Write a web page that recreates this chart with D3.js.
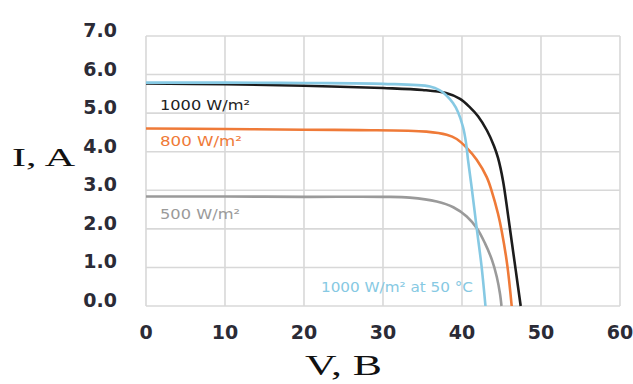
<!DOCTYPE html>
<html>
<head>
<meta charset="utf-8">
<script src="https://cdn.jsdelivr.net/npm/d3@7"></script>
<style>
  html, body { margin: 0; padding: 0; background: #fff; }
  svg { display: block; }
</style>
</head>
<body>
<svg id="chart" width="633" height="384"></svg>
<script>
// ---- data ----
const xTicks = [0, 10, 20, 30, 40, 50, 60];
const yTicks = [0, 1, 2, 3, 4, 5, 6, 7];
const yTickLabels = ["0.0", "1.0", "2.0", "3.0", "4.0", "5.0", "6.0", "7.0"];

const curve1000 = [[0,5.77],[10,5.75],[20,5.71],[30,5.65],[35,5.6],[37.97,5.52],[39.75,5.37],[41.01,5.15],[42.03,4.92],[43.16,4.55],[44.05,4.15],[44.56,3.84],[45.19,3.25],[45.82,2.37],[46.33,1.62],[46.84,0.87],[47.43,0]];
const curve800 = [[0,4.6],[10,4.59],[20,4.57],[27,4.56],[35.5,4.52],[38.06,4.44],[39.33,4.33],[40.6,4.1],[41.86,3.79],[43.13,3.34],[43.76,2.98],[44.56,2.39],[45.03,1.94],[45.73,1.06],[46.29,0]];
const curve500 = [[0,2.84],[10,2.84],[20,2.83],[30,2.83],[33.4,2.81],[36.8,2.71],[38.9,2.56],[40.6,2.32],[41.9,2.01],[42.9,1.63],[43.8,1.19],[44.4,0.76],[44.8,0.33],[45,0]];
const curve1000at50 = [[0,5.79],[10,5.79],[20,5.78],[30,5.76],[35.95,5.69],[37.2,5.59],[37.97,5.47],[38.86,5.26],[39.49,5.03],[40.13,4.64],[40.51,4.23],[40.76,3.79],[41.2,3.11],[41.86,2.02],[42.47,1.04],[42.97,0]];

const seriesNames = ["500 W/m²", "800 W/m²", "1000 W/m²", "1000 W/m² at 50 °C"];
const seriesData = [curve500, curve800, curve1000, curve1000at50];
const seriesColors = ["#9a9a9a", "#ef7a38", "#1c1c1c", "#86c9e3"];

const xTitle = "V, B";
const yTitle = "I, A";

// ---- layout ----
const svg = d3.select("#chart");
const x = d3.scaleLinear().domain([0, 60]).range([146, 620]);
const y = d3.scaleLinear().domain([0, 7]).range([306, 36]);

// grid
const grid = svg.append("g");
grid.selectAll("line.v").data(xTicks).join("line")
  .attr("x1", d => x(d)).attr("x2", d => x(d))
  .attr("y1", y(7)).attr("y2", y(0))
  .attr("stroke", "#d8d8d8").attr("stroke-width", 1.6);
grid.selectAll("line.h").data(yTicks).join("line")
  .attr("x1", x(0)).attr("x2", x(60))
  .attr("y1", d => y(d)).attr("y2", d => y(d))
  .attr("stroke", "#d8d8d8").attr("stroke-width", 1.6);

// y tick labels
svg.append("g").selectAll("text").data(yTicks).join("text")
  .attr("x", 117).attr("y", d => y(d) + 1)
  .attr("text-anchor", "end")
  .attr("font-family", "DejaVu Sans")
  .attr("font-weight", "bold")
  .attr("font-size", 19)
  .attr("fill", "#2b2b36")
  .text((d, i) => yTickLabels[i]);

// x tick labels
svg.append("g").selectAll("text").data(xTicks).join("text")
  .attr("x", d => x(d)).attr("y", 339)
  .attr("text-anchor", "middle")
  .attr("font-family", "DejaVu Sans")
  .attr("font-weight", "bold")
  .attr("font-size", 19)
  .attr("fill", "#2b2b36")
  .text(d => d);

// curves
const line = d3.line().x(d => x(d[0])).y(d => y(d[1])).curve(d3.curveCatmullRom.alpha(0.5));
svg.append("g").selectAll("path").data(seriesData).join("path")
  .attr("d", line)
  .attr("fill", "none")
  .attr("stroke", (d, i) => seriesColors[i])
  .attr("stroke-width", 2.6)
  .attr("stroke-linejoin", "round");

// curve labels
const labelPos = [
  { x: 160, y: 219, len: 80 },
  { x: 160, y: 146, len: 82 },
  { x: 160, y: 110, len: 90 },
  { x: 321, y: 292, len: 152 }
];
svg.append("g").selectAll("text").data(seriesNames).join("text")
  .attr("x", (d, i) => labelPos[i].x)
  .attr("y", (d, i) => labelPos[i].y)
  .attr("textLength", (d, i) => labelPos[i].len)
  .attr("lengthAdjust", "spacingAndGlyphs")
  .attr("font-family", "DejaVu Sans")
  .attr("font-size", 14)
  .attr("fill", (d, i) => i === 2 ? "#222" : seriesColors[i])
  .text(d => d);

// axis titles
svg.append("text")
  .attr("x", 12).attr("y", 166)
  .attr("textLength", 63).attr("lengthAdjust", "spacingAndGlyphs")
  .attr("font-family", "Liberation Serif")
  .attr("font-size", 26)
  .attr("fill", "#111")
  .text(yTitle);

svg.append("text")
  .attr("x", 305).attr("y", 375)
  .attr("textLength", 77).attr("lengthAdjust", "spacingAndGlyphs")
  .attr("font-family", "Liberation Serif")
  .attr("font-size", 30)
  .attr("fill", "#111")
  .text(xTitle);
</script>
</body>
</html>
